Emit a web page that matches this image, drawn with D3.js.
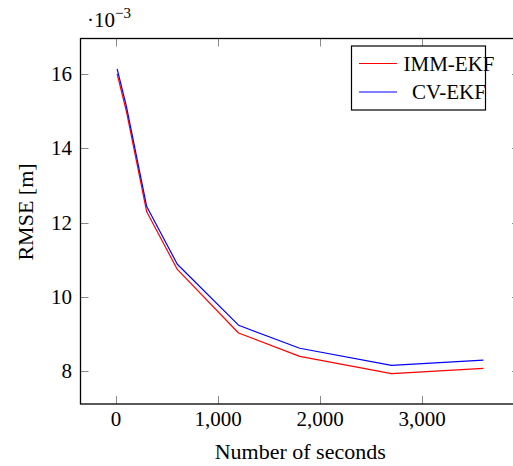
<!DOCTYPE html>
<html>
<head>
<meta charset="utf-8">
<script src="https://cdn.jsdelivr.net/npm/d3@7"></script>
<style>
  body { margin: 0; background: #fff; }
  text { font-family: "Liberation Serif", "DejaVu Serif", serif; fill: #000; }
</style>
</head>
<body>
<svg id="chart"></svg>
<script>
// RMSE vs. observation length (values in 10^-3 m)
const seconds = [10, 100, 300, 600, 1200, 1800, 2700, 3600];
const immEkf = [16.0, 15.0, 12.29, 10.74, 9.03, 8.40, 7.94, 8.08];
const cvEkf = [16.13, 15.14, 12.43, 10.88, 9.24, 8.62, 8.16, 8.30];
const xTicks = [0, 1000, 2000, 3000];
const yTicks = [8, 10, 12, 14, 16];
const seriesNames = ["IMM-EKF", "CV-EKF"];
const seriesColors = ["#ff0000", "#0000ff"];

const width = 513, height = 466;
const box = {left: 80.5, right: 520, top: 38.5, bottom: 404};
const tickLen = 8;

const svg = d3.select("#chart").attr("width", width).attr("height", height);

// pgfplots-like 10% enlargement of the data range
function enlarge(ext) {
  const pad = (ext[1] - ext[0]) * 0.1;
  return [ext[0] - pad, ext[1] + pad];
}
const allY = immEkf.concat(cvEkf);
const xScale = d3.scaleLinear().domain(enlarge(d3.extent(seconds))).range([box.left, box.right]);
const yScale = d3.scaleLinear().domain(enlarge(d3.extent(allY))).range([box.bottom, box.top]);

const fmt = d3.format(",");

// ticks on all four sides, pointing inward
const tickG = svg.append("g").attr("stroke", "#8a8a8a").attr("stroke-width", 1);
xTicks.forEach(t => {
  const x = Math.round(xScale(t)) + 0.5;
  tickG.append("line").attr("x1", x).attr("x2", x).attr("y1", box.bottom).attr("y2", box.bottom - tickLen);
  tickG.append("line").attr("x1", x).attr("x2", x).attr("y1", box.top).attr("y2", box.top + tickLen);
});
yTicks.forEach(t => {
  const y = Math.round(yScale(t)) + 0.5;
  tickG.append("line").attr("x1", box.left).attr("x2", box.left + tickLen).attr("y1", y).attr("y2", y);
  tickG.append("line").attr("x1", box.right).attr("x2", box.right - tickLen).attr("y1", y).attr("y2", y);
});

// tick labels
svg.append("g").selectAll("text").data(xTicks).join("text")
  .attr("x", d => xScale(d))
  .attr("y", 426)
  .attr("text-anchor", "middle")
  .attr("font-size", 21)
  .text(d => fmt(d));

svg.append("g").selectAll("text").data(yTicks).join("text")
  .attr("x", 72)
  .attr("y", d => yScale(d) + 7)
  .attr("text-anchor", "end")
  .attr("font-size", 21)
  .text(d => d);

// scale factor label
const mult = svg.append("text").attr("x", 87).attr("y", 27).attr("font-size", 21);
mult.append("tspan").text("·10");
mult.append("tspan").attr("dy", -9).attr("font-size", 15).text("−3");

// lines
const line = vals => d3.line()
  .x((d, i) => xScale(seconds[i]))
  .y(d => yScale(d))(vals);

[immEkf, cvEkf].forEach((vals, i) => {
  svg.append("path")
    .attr("d", line(vals))
    .attr("fill", "none")
    .attr("stroke", seriesColors[i])
    .attr("stroke-width", 1.2)
    .attr("stroke-linejoin", "round");
});

// frame
svg.append("rect")
  .attr("x", box.left).attr("y", box.top)
  .attr("width", box.right - box.left).attr("height", box.bottom - box.top)
  .attr("fill", "none").attr("stroke", "#000").attr("stroke-width", 1.3);

// axis labels
svg.append("text")
  .attr("x", (box.left + box.right) / 2)
  .attr("y", 459)
  .attr("text-anchor", "middle")
  .attr("font-size", 22)
  .text("Number of seconds");

svg.append("text")
  .attr("transform", "translate(33,212) rotate(-90)")
  .attr("text-anchor", "middle")
  .attr("font-size", 22)
  .text("RMSE [m]");

// legend
const legend = svg.append("g");
legend.append("rect")
  .attr("x", 351.5).attr("y", 46).attr("width", 134).attr("height", 64)
  .attr("fill", "#fff").attr("stroke", "#000").attr("stroke-width", 1.2);
seriesNames.forEach((name, i) => {
  const y = 63.5 + i * 28.5;
  legend.append("line")
    .attr("x1", 359).attr("x2", 397).attr("y1", y).attr("y2", y)
    .attr("stroke", seriesColors[i]).attr("stroke-width", 1.2);
  legend.append("text")
    .attr("x", 449).attr("y", y + 7)
    .attr("text-anchor", "middle")
    .attr("font-size", 21)
    .text(name);
});
</script>
</body>
</html>
